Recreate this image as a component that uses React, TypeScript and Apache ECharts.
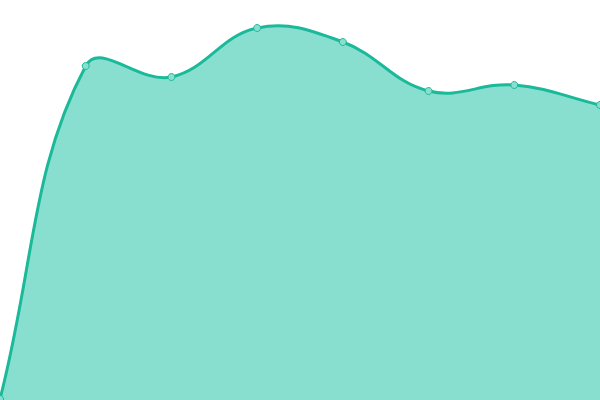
import React from "react";
import * as echarts from "echarts";

const categories = ["1", "2", "3", "4", "5", "6", "7", "8"];
const values = [1, 334, 323, 372, 358, 309, 315, 295];

const LINE_COLOR = "#1ab99a";
const AREA_COLOR = "#89dfcf";
const TENSION = 0.4;

// builds a cardinal-style bezier path through the pixel points
const buildPath = (pts: number[][]) => {
    const cps: { prev: number[]; next: number[] }[] = pts.map((cur, i) => {
        const prev = pts[i - 1] || cur;
        const next = pts[i + 1] || cur;
        const d01 = Math.hypot(cur[0] - prev[0], cur[1] - prev[1]);
        const d12 = Math.hypot(next[0] - cur[0], next[1] - cur[1]);
        const sum = d01 + d12 || 1;
        const fa = (TENSION * d01) / sum;
        const fb = (TENSION * d12) / sum;
        return {
            prev: [cur[0] - fa * (next[0] - prev[0]), cur[1] - fa * (next[1] - prev[1])],
            next: [cur[0] + fb * (next[0] - prev[0]), cur[1] + fb * (next[1] - prev[1])],
        };
    });
    let d = `M${pts[0][0]},${pts[0][1]}`;
    for (let i = 1; i < pts.length; i++) {
        const a = cps[i - 1].next;
        const b = cps[i].prev;
        d += ` C${a[0]},${a[1]} ${b[0]},${b[1]} ${pts[i][0]},${pts[i][1]}`;
    }
    return d;
};

const App: React.FC = () => {
    const chartRef = React.useRef<HTMLDivElement>(null);

    React.useEffect(() => {
        if (!chartRef.current) return;
        const chart = echarts.init(chartRef.current, undefined, { renderer: "svg" });

        chart.setOption({
            animation: false,
            grid: { top: 0, left: 0, right: 0, bottom: 0, containLabel: false },
            xAxis: {
                type: "category",
                data: categories,
                boundaryGap: false,
                show: false,
            },
            yAxis: {
                type: "value",
                min: 0,
                max: 400,
                show: false,
            },
            series: [
                {
                    type: "custom",
                    data: values,
                    silent: true,
                    renderItem: (params: any, api: any) => {
                        if (params.dataIndex !== 0) return null;
                        const pts = values.map((v, i) => api.coord([i, v]));
                        const base = api.coord([0, 0])[1];
                        const line = buildPath(pts);
                        const last = pts[pts.length - 1];
                        const area = `${line} L${last[0]},${base} L${pts[0][0]},${base} Z`;
                        return {
                            type: "group",
                            children: [
                                {
                                    type: "path",
                                    shape: { pathData: area },
                                    style: { fill: AREA_COLOR, stroke: "none" },
                                },
                                {
                                    type: "path",
                                    shape: { pathData: line },
                                    style: { fill: "none", stroke: LINE_COLOR, lineWidth: 3 },
                                },
                            ],
                        };
                    },
                },
                {
                    type: "scatter",
                    data: values,
                    symbol: "circle",
                    symbolSize: 7,
                    itemStyle: {
                        color: AREA_COLOR,
                        borderColor: LINE_COLOR,
                        borderWidth: 1,
                        opacity: 1,
                    },
                },
            ],
        });

        return () => {
            chart.dispose();
        };
    }, []);

    return (
        <div
            ref={chartRef}
            style={{ position: "fixed", left: 0, top: 0, width: "600px", height: "400px" }}
        />
    );
};

export default App;
